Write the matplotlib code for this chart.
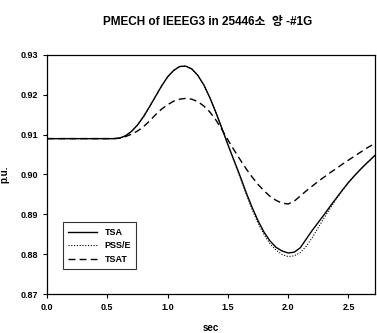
import matplotlib
matplotlib.use("Agg")
import matplotlib.pyplot as plt

plt.rcParams['font.family'] = ['Liberation Sans', 'Noto Sans CJK KR', 'DejaVu Sans']

# --- data (0.05 s steps) ------------------------------------------------
t = [0.0, 0.5, 0.55, 0.60, 0.65, 0.70, 0.75, 0.80, 0.85, 0.90, 0.95, 1.00,
     1.05, 1.10, 1.15, 1.20, 1.25, 1.30, 1.35, 1.40, 1.45, 1.50, 1.55, 1.60,
     1.65, 1.70, 1.75, 1.80, 1.85, 1.90, 1.95, 2.00, 2.05, 2.10, 2.15, 2.20,
     2.25, 2.30, 2.35, 2.40, 2.45, 2.50, 2.55, 2.60, 2.65, 2.72]

v_tsa = [0.9090, 0.9090, 0.9090, 0.9091, 0.9097, 0.9108, 0.9124, 0.9145,
         0.9170, 0.9196, 0.9222, 0.9245, 0.9261, 0.9271, 0.9272, 0.9265,
         0.9249, 0.9225, 0.9193, 0.9156, 0.9116, 0.9075, 0.9036, 0.8997,
         0.8956, 0.8918, 0.8884, 0.8855, 0.8833, 0.8817, 0.8808, 0.8803,
         0.8805, 0.8816, 0.8838, 0.8860, 0.8880, 0.8900, 0.8921, 0.8941,
         0.8961, 0.8980, 0.8997, 0.9013, 0.9028, 0.9048]

v_pss = [0.9090, 0.9090, 0.9090, 0.9091, 0.9097, 0.9108, 0.9124, 0.9145,
         0.9170, 0.9196, 0.9222, 0.9245, 0.9261, 0.9271, 0.9272, 0.9265,
         0.9249, 0.9225, 0.9193, 0.9156, 0.9116, 0.9075, 0.9034, 0.8994,
         0.8952, 0.8913, 0.8878, 0.8849, 0.8826, 0.8810, 0.8799, 0.8794,
         0.8796, 0.8804, 0.8820, 0.8842, 0.8867, 0.8892, 0.8916, 0.8939,
         0.8960, 0.8980, 0.8997, 0.9013, 0.9028, 0.9048]

v_tsat = [0.9090, 0.9090, 0.9090, 0.9091, 0.9095, 0.9101, 0.9109, 0.9120,
          0.9134, 0.9150, 0.9164, 0.9175, 0.9184, 0.9189, 0.9191, 0.9189,
          0.9183, 0.9172, 0.9157, 0.9137, 0.9113, 0.9087, 0.9062, 0.9038,
          0.9015, 0.8994, 0.8975, 0.8959, 0.8945, 0.8935, 0.8928, 0.8926,
          0.8933, 0.8946, 0.8959, 0.8971, 0.8983, 0.8994, 0.9005, 0.9015,
          0.9026, 0.9036, 0.9046, 0.9056, 0.9066, 0.9078]

xticks = [0.0, 0.5, 1.0, 1.5, 2.0, 2.5]
yticks = [0.87, 0.88, 0.89, 0.90, 0.91, 0.92, 0.93]

fig = plt.figure(figsize=(3.77, 3.33), dpi=100)
ax = fig.add_axes([0.1247, 0.117, 0.87, 0.718])

ax.plot(t, v_tsa, color="black", lw=1.0, ls="-", label="TSA")
ax.plot(t, v_pss, color="black", lw=0.8, ls=(0, (1, 1.5)), label="PSS/E")
ax.plot(t, v_tsat, color="black", lw=1.0, ls=(0, (5, 3)), label="TSAT")

ax.set_xlim(0, 2.72)
ax.set_ylim(0.87, 0.93)
ax.set_xticks(xticks)
ax.set_xticklabels([f"{v:.1f}" for v in xticks])
ax.set_yticks(yticks)
ax.set_yticklabels([f"{v:.2f}" for v in yticks])
ax.tick_params(labelsize=6.5, length=3, width=0.8, direction="out")
for lab in ax.get_xticklabels() + ax.get_yticklabels():
    lab.set_fontweight("bold")
for s in ax.spines.values():
    s.set_linewidth(0.9)

ax.set_xlabel("sec", fontsize=7, fontweight="bold", labelpad=8)
ax.set_ylabel("p.u.", fontsize=7, fontweight="bold", labelpad=8)
fig.text(0.55, 0.935, "PMECH of IEEEG3 in 25446소  양 -#1G", ha="center",
         va="center", fontsize=8.5, fontweight="bold")

leg = ax.legend(loc="lower left", bbox_to_anchor=(0.035, 0.085), fontsize=6.5,
                frameon=True, fancybox=False, edgecolor="black",
                handlelength=3.2, borderpad=0.6, labelspacing=0.5)
leg.get_frame().set_linewidth(0.8)
for txt in leg.get_texts():
    txt.set_fontweight("bold")

fig.savefig("out.png", dpi=100)
